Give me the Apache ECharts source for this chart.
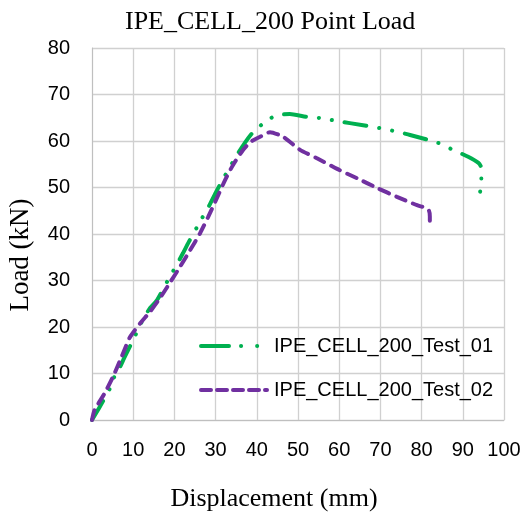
<!DOCTYPE html>
<html><head><meta charset="utf-8">
<script src="https://cdn.jsdelivr.net/npm/echarts@6/dist/echarts.min.js"></script>
<style>html,body{margin:0;padding:0;background:#fff}#c{width:528px;height:513px}</style>
</head><body><div id="c"></div>
<script>
var titleText = 'IPE_CELL_200 Point Load';
var xTitle = 'Displacement (mm)';
var yTitle = 'Load (kN)';
var seriesNames = ['IPE_CELL_200_Test_01', 'IPE_CELL_200_Test_02'];
var test01X = [0, 2, 4.4, 5.6, 6.8, 7.8, 9.3, 10.9, 12.4, 14.1, 15.8, 18.7, 20.4, 22.1, 23.5, 26.7, 28.4, 30.1, 31.8, 35.2, 37.1, 39.1, 42, 44, 46, 48, 52, 55.8, 59.4, 65.8, 69.7, 73.5, 77.2, 84, 87.6, 91.3, 93.8, 94.4, 94.5, 94.3, 94.1];
var test01Y = [0, 3, 6.9, 9.7, 11.4, 13.3, 16, 18.9, 21.7, 24.1, 25.8, 30.5, 33.1, 35.9, 38.3, 43.4, 46, 49, 51.8, 57, 59.6, 61.9, 64.1, 65.2, 65.7, 65.8, 65.2, 64.9, 64.3, 63.4, 62.8, 62.1, 61.3, 59.6, 58.1, 56.6, 55.3, 54.5, 52, 50, 47.9];
var test02X = [0, 0.6, 3.1, 5.1, 7.2, 9.2, 11.7, 14.1, 16.5, 18.9, 21.4, 23.8, 26.2, 28.2, 30.3, 32.3, 34.2, 36.7, 38.5, 40.8, 43.2, 46.4, 50.5, 54.6, 59.5, 64.3, 69.2, 74, 78.9, 81, 81.8, 82, 82];
var test02Y = [0, 2.1, 5.8, 9.3, 13.6, 17.8, 20.8, 23.3, 26.2, 29.5, 33, 36.5, 40.1, 43.7, 47.7, 51.6, 54.8, 58.1, 59.8, 60.9, 61.9, 60.9, 58.1, 56.3, 54, 52, 49.9, 48, 46.2, 45.6, 45.0, 43.7, 41.5];

var green = '#00b050', purple = '#7030a0';
var greenDash = [22, 13, 0.1, 13, 0.1, 13];
var purpleDash = [10, 8];

function pairs(xs, ys){ return xs.map(function(x,i){return [x, ys[i]];}); }

var chart = echarts.init(document.getElementById('c'));
chart.setOption({
  animation: false,
  backgroundColor: '#fff',
  title: { text: titleText, left: 120, top: 4,
    textStyle: { fontFamily: 'Liberation Serif', fontSize: 26, fontWeight: 'normal', color: '#000' } },
  grid: { left: 92, right: 24, top: 48, bottom: 93, containLabel: false, outerBoundsMode: 'none' },
  xAxis: { type: 'value', min: 0, max: 100, interval: 10,
    name: xTitle, nameLocation: 'middle', nameGap: 66,
    nameTextStyle: { fontFamily: 'Liberation Serif', fontSize: 26, color: '#000', padding: [0, 48, 0, 0] },
    axisLine: { lineStyle: { color: '#bfbfbf' } }, axisTick: { show: false },
    axisLabel: { fontFamily: 'Liberation Sans', fontSize: 20, color: '#000', margin: 20 },
    splitLine: { lineStyle: { color: '#d0d0d0', width: 1.3 } } },
  yAxis: { type: 'value', min: 0, max: 80, interval: 10,
    name: yTitle, nameLocation: 'middle', nameGap: 58, nameRotate: 90,
    nameTextStyle: { fontFamily: 'Liberation Serif', fontSize: 27, color: '#000', padding: [0, 42, 0, 0] },
    axisLine: { show: true, lineStyle: { color: '#bfbfbf' } }, axisTick: { show: false },
    axisLabel: { fontFamily: 'Liberation Sans', fontSize: 20, color: '#000', margin: 22 },
    splitLine: { lineStyle: { color: '#d0d0d0', width: 1.3 } } },
  legend: { orient: 'vertical', left: 194, top: 331, itemGap: 24, itemWidth: 66, itemHeight: 14,
    textStyle: { fontFamily: 'Liberation Sans', fontSize: 20, color: '#000', padding: [0, 0, 0, 2] },
    data: [
      { name: seriesNames[0], itemStyle: { color: 'transparent', borderWidth: 0, opacity: 0 },
        lineStyle: { color: green, width: 4, cap: 'round', type: [28, 12, 0.1, 16, 0.1, 10] } },
      { name: seriesNames[1], itemStyle: { color: 'transparent', borderWidth: 0, opacity: 0 },
        lineStyle: { color: purple, width: 4, cap: 'round', type: [10, 6] } }
    ] },
  series: [
    { name: seriesNames[0], type: 'line', showSymbol: false, symbol: 'none', smooth: 0.2,
      data: pairs(test01X, test01Y), color: green,
      lineStyle: { color: green, width: 4, cap: 'round', type: greenDash } },
    { name: seriesNames[1], type: 'line', showSymbol: false, symbol: 'none', smooth: 0.2,
      data: pairs(test02X, test02Y), color: purple,
      lineStyle: { color: purple, width: 4, cap: 'round', type: purpleDash } }
  ]
});
</script></body></html>
